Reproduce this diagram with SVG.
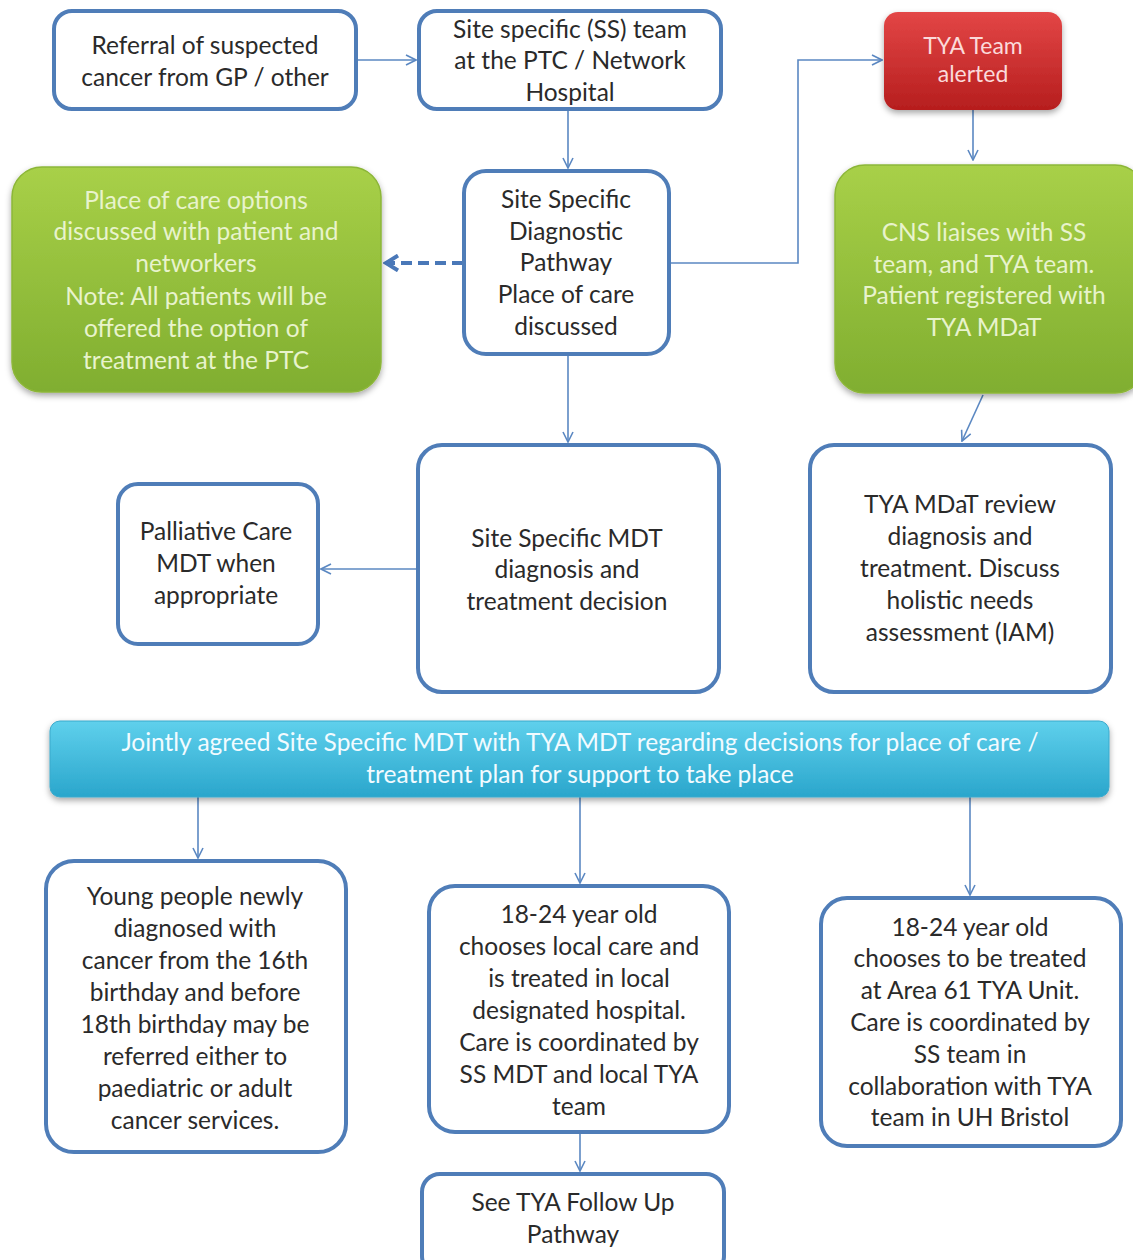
<svg xmlns="http://www.w3.org/2000/svg" width="1133" height="1260" viewBox="0 0 1133 1260">
<style>
.box{fill:#fff;stroke:#4f7db8;stroke-width:4}
.t{font-family:Lato,"Open Sans","Liberation Sans",sans-serif;font-size:24.5px;fill:#2a2a2a;text-anchor:middle}
.tg{font-family:Lato,"Open Sans","Liberation Sans",sans-serif;font-size:24.5px;fill:#e8f3cc;text-anchor:middle}
.tr{font-family:Lato,"Open Sans","Liberation Sans",sans-serif;font-size:23px;fill:#fbdada;text-anchor:middle}
.tb{font-family:Lato,"Open Sans","Liberation Sans",sans-serif;font-size:24.5px;fill:#f2fbff;text-anchor:middle}
.c{fill:none;stroke:#5b88c2;stroke-width:1.6}
.d{fill:none;stroke:#4a78b8;stroke-width:4;stroke-dasharray:11 6}
</style>
<defs>
<linearGradient id="gg" x1="0" y1="0" x2="0" y2="1"><stop offset="0" stop-color="#a8d048"/><stop offset="1" stop-color="#80ae30"/></linearGradient>
<linearGradient id="rg" x1="0" y1="0" x2="0" y2="1"><stop offset="0" stop-color="#e34646"/><stop offset="1" stop-color="#b61e1e"/></linearGradient>
<linearGradient id="bg" x1="0" y1="0" x2="0" y2="1"><stop offset="0" stop-color="#5fd0ec"/><stop offset="1" stop-color="#2aa6cc"/></linearGradient>
<filter id="sh" x="-10%" y="-10%" width="120%" height="130%"><feDropShadow dx="0" dy="3" stdDeviation="3" flood-color="#000" flood-opacity="0.35"/></filter>
<marker id="a" viewBox="0 0 12 12" refX="11" refY="6" markerWidth="12" markerHeight="12" markerUnits="userSpaceOnUse" orient="auto"><path d="M1,1 L11,6 L1,11" fill="none" stroke="#5b88c2" stroke-width="1.6"/></marker>
<marker id="ad" viewBox="0 0 12 12" refX="10" refY="6" markerWidth="18" markerHeight="18" markerUnits="userSpaceOnUse" orient="auto"><path d="M2,1 L10,6 L2,11" fill="none" stroke="#4a78b8" stroke-width="2.6"/></marker>
</defs>
<rect width="1133" height="1260" fill="#fff"/>

<g id="connectors">
<path class="c" d="M357,60 H416" marker-end="url(#a)"/>
<path class="c" d="M568,110 V168" marker-end="url(#a)"/>
<path class="c" d="M670,263 H798 V60 H882" marker-end="url(#a)"/>
<path class="d" d="M463,263 H386" marker-end="url(#ad)"/>
<path class="c" d="M973,110 V160" marker-end="url(#a)"/>
<path class="c" d="M983,395 L962,441" marker-end="url(#a)"/>
<path class="c" d="M568,355 V442" marker-end="url(#a)"/>
<path class="c" d="M417,569 H321" marker-end="url(#a)"/>
<path class="c" d="M198,797 V858" marker-end="url(#a)"/>
<path class="c" d="M580,797 V883" marker-end="url(#a)"/>
<path class="c" d="M970,770 V895" marker-end="url(#a)"/>
<path class="c" d="M580,1133 V1171" marker-end="url(#a)"/>
</g>

<g id="n-referral">
<rect class="box" x="54" y="11" width="302" height="98" rx="18"/>
<text class="t"><tspan x="205" y="54">Referral of suspected</tspan><tspan x="205" y="86">cancer from GP / other</tspan></text>
</g>
<g id="n-ssteam">
<rect class="box" x="419" y="11" width="302" height="98" rx="18"/>
<text class="t"><tspan x="570" y="38">Site specific (SS) team</tspan><tspan x="570" y="69">at the PTC / Network</tspan><tspan x="570" y="101">Hospital</tspan></text>
</g>
<g id="n-tya-alert">
<rect x="884" y="12" width="178" height="98" rx="14" fill="url(#rg)" filter="url(#sh)"/>
<text class="tr"><tspan x="973" y="54">TYA Team</tspan><tspan x="973" y="82">alerted</tspan></text>
</g>
<g id="n-green-left">
<rect x="12" y="167" width="369" height="225" rx="30" fill="url(#gg)" stroke="#8cb638" stroke-width="1.5" filter="url(#sh)"/>
<text class="tg"><tspan x="196" y="209">Place of care options</tspan><tspan x="196" y="240">discussed with patient and</tspan><tspan x="196" y="272">networkers</tspan><tspan x="196" y="305">Note: All patients will be</tspan><tspan x="196" y="337">offered the option of</tspan><tspan x="196" y="369">treatment at the PTC</tspan></text>
</g>
<g id="n-diagnostic">
<rect class="box" x="464" y="171" width="205" height="183" rx="22"/>
<text class="t"><tspan x="566" y="208">Site Specific</tspan><tspan x="566" y="240">Diagnostic</tspan><tspan x="566" y="271">Pathway</tspan><tspan x="566" y="303">Place of care</tspan><tspan x="566" y="335">discussed</tspan></text>
</g>
<g id="n-green-right">
<rect x="835" y="165" width="310" height="228" rx="30" fill="url(#gg)" stroke="#8cb638" stroke-width="1.5" filter="url(#sh)"/>
<text class="tg"><tspan x="984" y="241">CNS liaises with SS</tspan><tspan x="984" y="273">team, and TYA team.</tspan><tspan x="984" y="304">Patient registered with</tspan><tspan x="984" y="336">TYA MDaT</tspan></text>
</g>
<g id="n-palliative">
<rect class="box" x="118" y="484" width="200" height="160" rx="20"/>
<text class="t"><tspan x="216" y="540">Palliative Care</tspan><tspan x="216" y="572">MDT when</tspan><tspan x="216" y="604">appropriate</tspan></text>
</g>
<g id="n-ss-mdt">
<rect class="box" x="418" y="445" width="301" height="247" rx="24"/>
<text class="t"><tspan x="567" y="547">Site Specific MDT</tspan><tspan x="567" y="578">diagnosis and</tspan><tspan x="567" y="610">treatment decision</tspan></text>
</g>
<g id="n-tya-mdat">
<rect class="box" x="810" y="445" width="301" height="247" rx="24"/>
<text class="t"><tspan x="960" y="513">TYA MDaT review</tspan><tspan x="960" y="545">diagnosis and</tspan><tspan x="960" y="577">treatment. Discuss</tspan><tspan x="960" y="609">holistic  needs</tspan><tspan x="960" y="641">assessment (IAM)</tspan></text>
</g>
<g id="n-banner">
<rect x="50" y="721" width="1059" height="76" rx="10" fill="url(#bg)" stroke="#3aa9cc" stroke-width="1" filter="url(#sh)"/>
<text class="tb"><tspan x="580" y="751">Jointly agreed Site Specific MDT with TYA MDT regarding decisions for place of care /</tspan><tspan x="580" y="783">treatment plan for support  to take place</tspan></text>
</g>
<g id="n-young">
<rect class="box" x="46" y="861" width="300" height="291" rx="28"/>
<text class="t"><tspan x="195" y="905">Young people newly</tspan><tspan x="195" y="937">diagnosed with</tspan><tspan x="195" y="969">cancer from the 16th</tspan><tspan x="195" y="1001">birthday and before</tspan><tspan x="195" y="1033">18th birthday may be</tspan><tspan x="195" y="1065">referred either to</tspan><tspan x="195" y="1097">paediatric or adult</tspan><tspan x="195" y="1129">cancer services.</tspan></text>
</g>
<g id="n-local">
<rect class="box" x="429" y="886" width="300" height="246" rx="26"/>
<text class="t"><tspan x="579" y="923">18-24 year old</tspan><tspan x="579" y="955">chooses local care and</tspan><tspan x="579" y="987">is treated in local</tspan><tspan x="579" y="1019">designated hospital.</tspan><tspan x="579" y="1051">Care is coordinated by</tspan><tspan x="579" y="1083">SS MDT and local TYA</tspan><tspan x="579" y="1115">team</tspan></text>
</g>
<g id="n-area61">
<rect class="box" x="821" y="898" width="300" height="248" rx="26"/>
<text class="t"><tspan x="970" y="936">18-24 year old</tspan><tspan x="970" y="967">chooses to be treated</tspan><tspan x="970" y="999">at Area 61 TYA Unit.</tspan><tspan x="970" y="1031">Care is coordinated by</tspan><tspan x="970" y="1063">SS team  in</tspan><tspan x="970" y="1095">collaboration with TYA</tspan><tspan x="970" y="1126">team in UH Bristol</tspan></text>
</g>
<g id="n-followup">
<rect class="box" x="422" y="1174" width="302" height="100" rx="18"/>
<text class="t"><tspan x="573" y="1211">See TYA Follow Up</tspan><tspan x="573" y="1243">Pathway</tspan></text>
</g>
</svg>
